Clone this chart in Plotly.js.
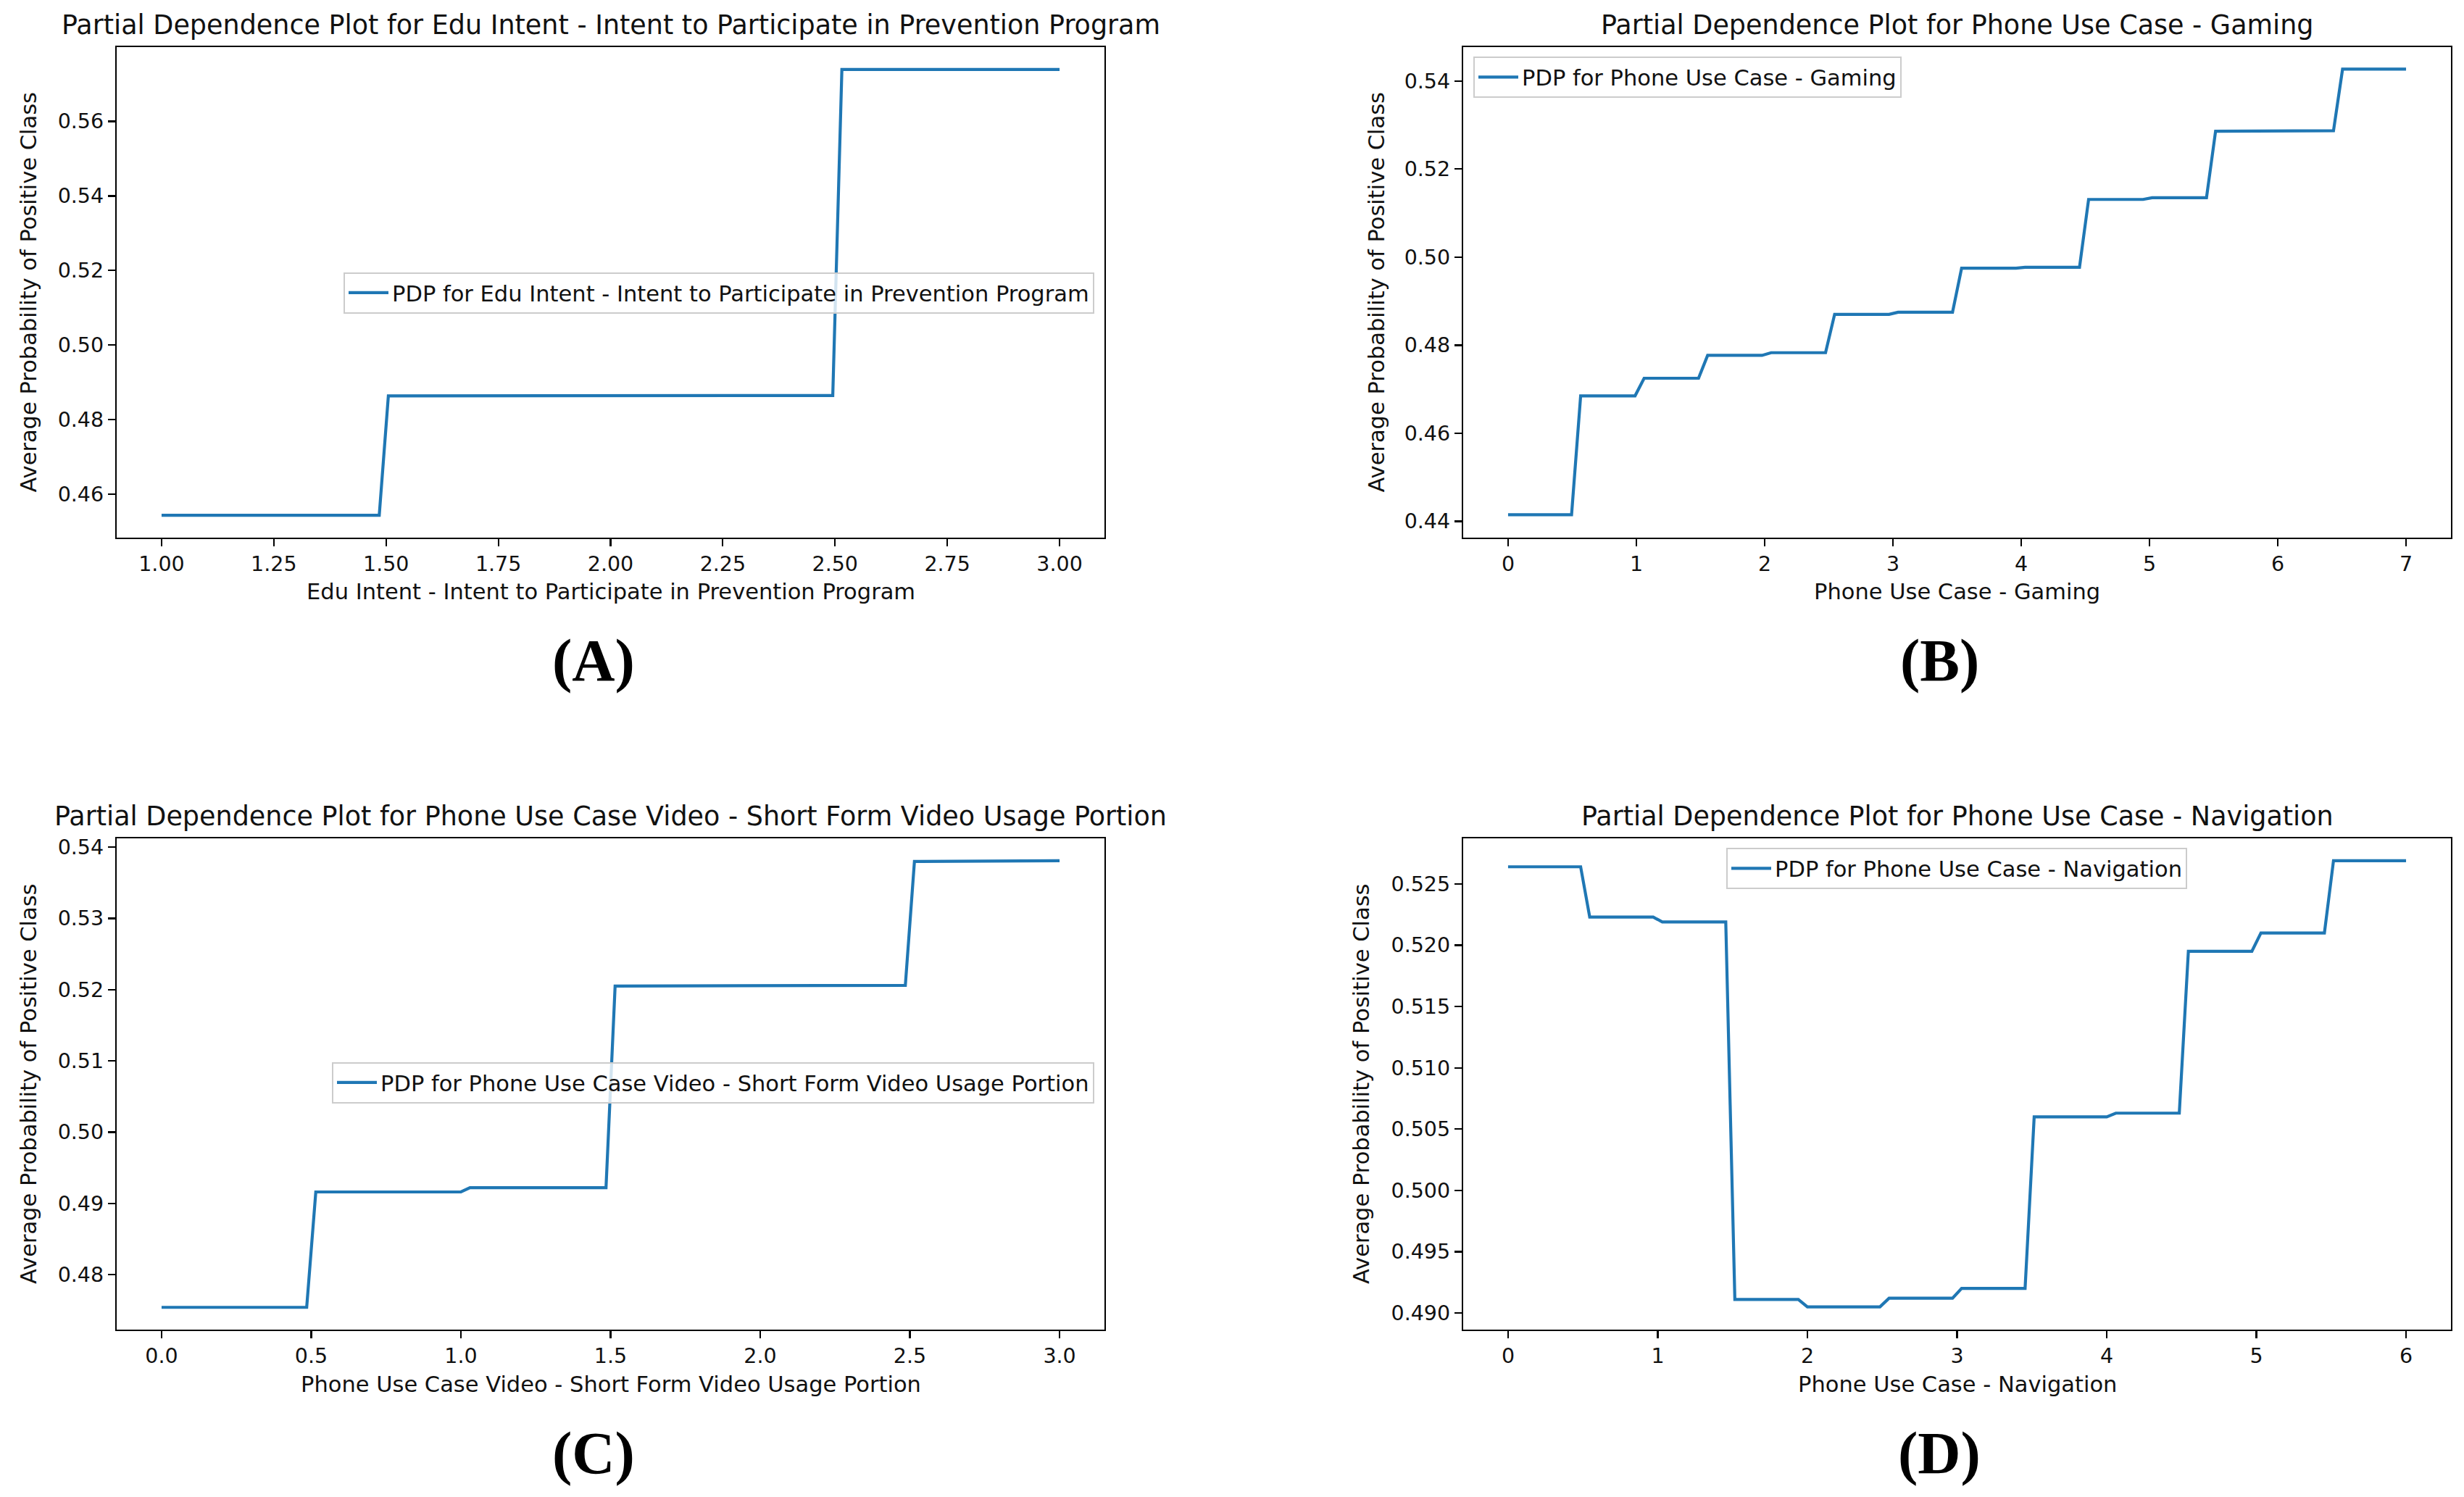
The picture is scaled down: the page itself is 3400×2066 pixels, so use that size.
<!DOCTYPE html>
<html>
<head>
<meta charset="utf-8">
<script src="https://cdn.plot.ly/plotly-3.0.1.min.js"></script>
<style>html,body{margin:0;padding:0;background:#fff;}#chart{width:3400px;height:2066px;}</style>
</head>
<body>
<div id="chart"></div>
<script>
// ---------- Data ----------
const titles = [
  "Partial Dependence Plot for Edu Intent - Intent to Participate in Prevention Program",
  "Partial Dependence Plot for Phone Use Case - Gaming",
  "Partial Dependence Plot for Phone Use Case Video - Short Form Video Usage Portion",
  "Partial Dependence Plot for Phone Use Case - Navigation"
];
const featureNames = [
  "Edu Intent - Intent to Participate in Prevention Program",
  "Phone Use Case - Gaming",
  "Phone Use Case Video - Short Form Video Usage Portion",
  "Phone Use Case - Navigation"
];
const yAxisLabel = "Average Probability of Positive Class";
const panelLabels = ["(A)", "(B)", "(C)", "(D)"];

// Panel A
const xA = [1.0, 1.4848, 1.5051, 1.9899, 2.0101, 2.4949, 2.5152, 3.0];
const yA = [0.4544, 0.4544, 0.4864, 0.4864, 0.4865, 0.4865, 0.5739, 0.5739];
// Panel B
const xB = [0, 0.4949, 0.5657, 0.9899, 1.0606, 1.4848, 1.5556, 1.9798, 2.0505, 2.4747, 2.5455,
            2.9697, 3.0404, 3.4646, 3.5354, 3.9596, 4.0303, 4.4545, 4.5253, 4.9495, 5.0202,
            5.4444, 5.5152, 5.9394, 6.0101, 6.4343, 6.5051, 7.0];
const yB = [0.4415, 0.4415, 0.4685, 0.4685, 0.4725, 0.4725, 0.4777, 0.4777, 0.4783, 0.4783, 0.4870,
            0.4870, 0.4875, 0.4875, 0.4975, 0.4975, 0.4977, 0.4977, 0.5131, 0.5131, 0.5135,
            0.5135, 0.5286, 0.5286, 0.5287, 0.5287, 0.5427, 0.5427];
// Panel C
const xC = [0, 0.4848, 0.5152, 1.0, 1.0303, 1.4848, 1.5152, 2.0, 2.4848, 2.5152, 2.9697, 3.0];
const yC = [0.4754, 0.4754, 0.4916, 0.4916, 0.4922, 0.4922, 0.5205, 0.5206, 0.5206, 0.5380, 0.5380, 0.5381];
// Panel D
const xD = [0, 0.4848, 0.5455, 0.9697, 1.0303, 1.4545, 1.5152, 1.9394, 2.0, 2.4848, 2.5455,
            2.9697, 3.0303, 3.4545, 3.5152, 4.0, 4.0606, 4.4848, 4.5455, 4.9697, 5.0303,
            5.4545, 5.5152, 6.0];
const yD = [0.5264, 0.5264, 0.5223, 0.5223, 0.5219, 0.5219, 0.4911, 0.4911, 0.4905, 0.4905, 0.4912,
            0.4912, 0.4920, 0.4920, 0.5060, 0.5060, 0.5063, 0.5063, 0.5195, 0.5195, 0.5210,
            0.5210, 0.5269, 0.5269];

// Tick values
const xTicksA = [1.0, 1.25, 1.5, 1.75, 2.0, 2.25, 2.5, 2.75, 3.0];
const yTicksA = [0.46, 0.48, 0.50, 0.52, 0.54, 0.56];
const xTicksB = [0, 1, 2, 3, 4, 5, 6, 7];
const yTicksB = [0.44, 0.46, 0.48, 0.50, 0.52, 0.54];
const xTicksC = [0.0, 0.5, 1.0, 1.5, 2.0, 2.5, 3.0];
const yTicksC = [0.48, 0.49, 0.50, 0.51, 0.52, 0.53, 0.54];
const xTicksD = [0, 1, 2, 3, 4, 5, 6];
const yTicksD = [0.490, 0.495, 0.500, 0.505, 0.510, 0.515, 0.520, 0.525];

// ---------- Figure ----------
const W = 3400, H = 2066;
const FONT = "DejaVu Sans, Verdana, sans-serif";
const BLUE = "#1f77b4";
const TITLE_SIZE = 36.5, LABEL_SIZE = 30.5, TICK_SIZE = 28.5;
const px = v => v / W;            // x pixel -> paper
const py = v => 1 - v / H;        // y pixel (from top) -> paper

function fmt(v, f) {
  if (f === "d") return String(Math.round(v));
  return v.toFixed(parseInt(f.slice(1)));
}

const boxes = [ // left, right, top, bottom (pixels)
  [161, 1524, 65, 742],
  [2019, 3382, 65, 742],
  [161, 1524, 1157, 1835],
  [2019, 3382, 1157, 1835]
];
const xs = [xA, xB, xC, xD], ys = [yA, yB, yC, yD];
const xRanges = [[0.9, 3.1], [-0.35, 7.35], [-0.15, 3.15], [-0.3, 6.3]];
const yRanges = [[0.4484, 0.5799], [0.4363, 0.5477], [0.47227, 0.54124], [0.48864, 0.52872]];
const xTicks = [xTicksA, xTicksB, xTicksC, xTicksD];
const yTicks = [yTicksA, yTicksB, yTicksC, yTicksD];
const xFmt = [".2f", "d", ".1f", "d"];
const yFmt = [".2f", ".2f", ".2f", ".3f"];
const yLabelX = [39, 1899, 39, 1878];

const legendPos = [
  {x: px(1510), y: py(404), xanchor: "right", yanchor: "middle"},
  {x: px(2033), y: py(78), xanchor: "left", yanchor: "top"},
  {x: px(1510), y: py(1494), xanchor: "right", yanchor: "middle"},
  {x: px(2700), y: py(1170), xanchor: "center", yanchor: "top"}
];

const traces = [];
const layout = {
  width: W, height: H,
  margin: {l: 0, r: 0, t: 0, b: 0, pad: 0},
  paper_bgcolor: "#fff", plot_bgcolor: "#fff",
  font: {family: FONT, size: LABEL_SIZE, color: "#111"},
  annotations: []
};

for (let i = 0; i < 4; i++) {
  const sfx = i === 0 ? "" : String(i + 1);
  const [l, r, t, b] = boxes[i];
  traces.push({
    type: "scatter", mode: "lines",
    x: xs[i], y: ys[i],
    xaxis: "x" + sfx, yaxis: "y" + sfx,
    name: "PDP for " + featureNames[i],
    legend: "legend" + sfx,
    showlegend: true,
    line: {color: BLUE, width: 4.2},
    hoverinfo: "x+y"
  });
  const common = {
    showline: true, mirror: true, linecolor: "#000", linewidth: 2.2,
    ticks: "outside", ticklen: 10, tickwidth: 2.2, tickcolor: "#000",
    showgrid: false, zeroline: false,
    tickfont: {family: FONT, size: TICK_SIZE, color: "#111"},
    tickmode: "array"
  };
  layout["xaxis" + sfx] = Object.assign({}, common, {
    domain: [px(l), px(r)], anchor: "y" + sfx,
    range: xRanges[i], tickvals: xTicks[i],
    ticktext: xTicks[i].map(v => fmt(v, xFmt[i]))
  });
  layout["yaxis" + sfx] = Object.assign({}, common, {
    domain: [py(b), py(t)], anchor: "x" + sfx,
    range: yRanges[i], tickvals: yTicks[i],
    ticktext: yTicks[i].map(v => fmt(v, yFmt[i]))
  });
  layout["legend" + sfx] = Object.assign({
    bgcolor: "rgba(255,255,255,0.8)", bordercolor: "#cccccc", borderwidth: 2,
    itemwidth: 55,
    font: {family: FONT, size: LABEL_SIZE, color: "#111"}
  }, legendPos[i]);

  const cx = (l + r) / 2, cy = (t + b) / 2;
  // subplot title
  layout.annotations.push({
    text: titles[i], xref: "paper", yref: "paper",
    x: px(cx), y: py(t - 31), xanchor: "center", yanchor: "middle",
    showarrow: false, font: {family: FONT, size: TITLE_SIZE, color: "#111"}
  });
  // x label
  layout.annotations.push({
    text: featureNames[i], xref: "paper", yref: "paper",
    x: px(cx), y: py(b + 75), xanchor: "center", yanchor: "middle",
    showarrow: false, font: {family: FONT, size: LABEL_SIZE, color: "#111"}
  });
  // y label
  layout.annotations.push({
    text: yAxisLabel, xref: "paper", yref: "paper",
    x: px(yLabelX[i]), y: py(cy), xanchor: "center", yanchor: "middle",
    textangle: -90, showarrow: false, font: {family: FONT, size: LABEL_SIZE, color: "#111"}
  });
  // panel label
  layout.annotations.push({
    text: "<b>" + panelLabels[i] + "</b>", xref: "paper", yref: "paper",
    x: px(i % 2 === 0 ? 819 : 2676), y: py(i < 2 ? 912 : 2005), xanchor: "center", yanchor: "middle",
    showarrow: false, font: {family: "Liberation Serif, Times New Roman, serif", size: 82, color: "#000"}
  });
}

Plotly.newPlot("chart", traces, layout, {staticPlot: true, displayModeBar: false});
</script>
</body>
</html>
